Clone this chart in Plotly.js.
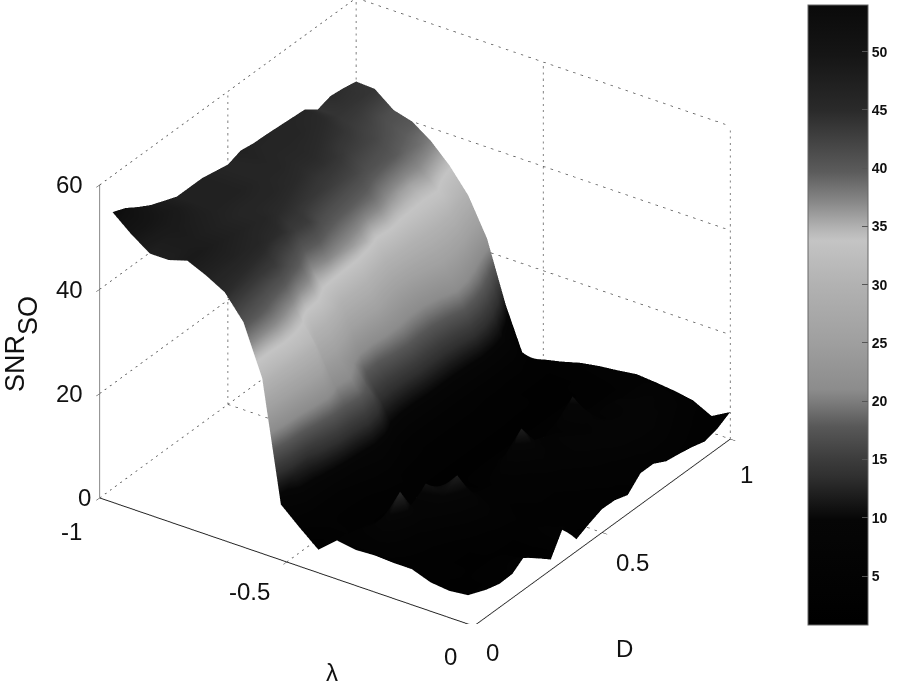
<!DOCTYPE html>
<html>
<head>
<meta charset="utf-8">
<script src="https://cdn.plot.ly/plotly-3.0.1.min.js"></script>
<style>html,body{margin:0;padding:0;background:#fff}</style>
</head>
<body>
<div id="chart" style="width:901px;height:688px"></div>
<script>
// lambda across, D along
const lambda = [-1,-0.95,-0.9,-0.85,-0.8,-0.75,-0.7,-0.65,-0.6,-0.55,-0.5,-0.45,-0.4,-0.35,-0.3,-0.25,-0.2,-0.15,-0.1,-0.05,0];
const D = [0.05,0.1,0.15,0.2,0.25,0.3,0.35,0.4,0.45,0.5,0.55,0.6,0.65,0.7,0.75,0.8,0.85,0.9,0.95,1];
const snr = [
  [53,50,47.5,47.5,48.6,47,45,40.5,31,8,4.8,1.8,4.8,4.2,4.4,4.2,4.2,2.9,2.5,2.9,5.2],
  [52,50,48,48,48.5,47,44.5,40,31,12,6,5,4.5,7,9,5,4,4,3,3,4.5],
  [50.4,49.5,48.5,48,48,47,44,39,32,13,6,4,4,6,13,6,4,3,3,4,4.6],
  [49,49,48,47.5,47.5,46.5,43.5,37.5,32,16,6,4,3,5,8,8,5,3,3,4,6.4],
  [48,48,47.5,47,47,46,43,36,31,18,7,4,3,4,11,10,7,4,3,3,4],
  [47,47,47,46.5,46.5,45,41,33.5,24,18,8,5,3,4,8,12,8,5,3,3,2],
  [47,47,47,46,46,44.5,39,33,24,19,9,5,4,4,5,7,6,5,4,5,6.6],
  [47,47,47,46,45,43,36,31,21.5,17,8,4,3,3,4,5,5,4,4,4,2.3],
  [46.5,46.5,46.5,46,44.5,43,37,28,18.5,12.5,6,4,3,3,3,5,5,5,4,4,3.5],
  [46,46,46,45.5,44,41,36.5,28,18,12,5,4,3,3,4,8,6,5,4,4,4.5],
  [46.9,46.5,46,45,43.5,40,36,28,19,12,5,4,3,3,5,12,8,6,5,4,4.4],
  [46.5,46,45.5,44.5,43,39.5,35,26,19.5,12.5,5,4,3,3,5,8,7,7,6,5,3.6],
  [46.4,46,45.5,44.5,42.5,39,33,25,19,12.5,5,4,3,3,4,7,8,9,7,5,6],
  [46.2,46,45,44,42,38.5,33.5,25,19,12.5,5,4,3,3,4,6,7,8,9,6,6],
  [46,45.5,44.5,43,41,37,33,26,20,13,5,3.5,3,3,4,11,8,8,9,7,4.7],
  [45.8,45,44,42.5,40.5,36,33,27,22,14,5,3.5,3,3,4,6,6,8,9,7,4.3],
  [44,44,43,42,40,35.5,33,27,21,13,5,3,3,3,4,5,8,8,8,6,3.8],
  [44.8,44,42.5,41,39,36,33,26,19,11,5,3,3,3,4,5,7,8,7,5,3.1],
  [44.5,44,41.5,40,38.5,35,31,24,16,7,4,3,3,3.5,4,5,7,7,6,4,3.8],
  [44,43.8,41,40,37.5,34,29.5,22.5,11,1.9,3,3.8,4.8,5.4,5.8,6.3,6,5.6,5,3.2,5.2]
];
const lambdaTicks = [-1,-0.5,0];
const dTicks = [0,0.5,1];
const zTicks = [0,20,40,60];
const barTicks = [5,10,15,20,25,30,35,40,45,50];

// gray map
const grayScale = [
  [0,'#000'],[0.17,'#060606'],[0.2,'#181818'],[0.24,'#303030'],[0.267,'#3c3c3c'],[0.32,'#585858'],[0.36,'#7c7c7c'],
  [0.38,'#8c8c8c'],[0.46,'#a0a0a0'],[0.55,'#b2b2b2'],[0.62,'#c4c4c4'],[0.635,'#b8b8b8'],[0.655,'#a4a4a4'],
  [0.68,'#8a8a8a'],[0.73,'#5c5c5c'],[0.83,'#2a2a2a'],[0.92,'#151515'],[1,'#0a0a0a']
];

const gridColor = '#555';
function gridLine(x, y, z) {
  return {type:'scatter3d', mode:'lines', x:x, y:y, z:z, hoverinfo:'skip', showlegend:false,
    line:{color:gridColor, width:1.5, dash:'dash'}};
}
const traces = [{
  type:'surface', x:lambda, y:D, z:snr, colorscale:grayScale, cmin:0.8, cmax:54,
  lighting:{ambient:1, diffuse:0, specular:0, fresnel:0, roughness:1},
  hoverinfo:'skip',
  contours:{x:{highlight:false},y:{highlight:false},z:{highlight:false}},
  colorbar:{x:808/901, xanchor:'left', y:1-5/688, yanchor:'top', len:620, lenmode:'pixels',
    thickness:60, thicknessmode:'pixels', tickvals:barTicks, ticks:'inside', ticklen:6,
    tickcolor:'#555', outlinecolor:'#666', outlinewidth:1, xpad:0, ypad:0,
    tickfont:{family:'Liberation Sans', size:14, color:'#111', weight:'bold'}}
}];
// dotted walls
zTicks.slice(1).forEach(z => {
  traces.push(gridLine([-1,-1],[0,1],[z,z]));
  traces.push(gridLine([-1,0],[1,1],[z,z]));
});
lambdaTicks.forEach(l => {
  traces.push(gridLine([l,l],[1,1],[0,60]));
  traces.push(gridLine([l,l],[0,1],[0,0]));
});
dTicks.slice(1).forEach(d => {
  traces.push(gridLine([-1,-1],[d,d],[0,60]));
  traces.push(gridLine([-1,0],[d,d],[0,0]));
});

const tickFont = {family:'Liberation Sans', size:24, color:'#111'};
function label(x, y, z, text, xshift, yshift, extra) {
  return Object.assign({x:x, y:y, z:z, text:text, showarrow:false, xshift:xshift, yshift:yshift, font:tickFont}, extra||{});
}
const notes = [];
lambdaTicks.forEach((l,i) => notes.push(label(l,0,0,String(l),[-28,-37,-23][i],[-34,-30,-30][i])));
dTicks.forEach((d,i) => notes.push(label(0,d,0,String(d),[19,30,16][i],[-26,-30,-35][i])));
zTicks.forEach(z => notes.push(label(-1,0,z,String(z),z ? -30 : -15,0)));
notes.push(label(-0.4,0,0,'λ',8,-98));
notes.push(label(0,0.45,0,'D',35,-107));
notes.push(label(-1,0,30,'SNR<sub><sub><sub><span style="font-size:27px">SO</span></sub></sub></sub>',-78,-3,
  {textangle:-90, font:{family:'Liberation Sans', size:27, color:'#111'}}));

const axisStyle = {showgrid:false, zeroline:false, showbackground:false, showticklabels:false,
  showline:true, linecolor:'#222', linewidth:2, ticks:'outside', ticklen:6, tickcolor:'#222', title:{text:''}, showspikes:false};

const layout = {
  width:901, height:688, margin:{l:0,r:0,t:0,b:0}, paper_bgcolor:'#fff', showlegend:false,
  scene:{
    domain:{x:[0,830/901], y:[64/688,1]},
    aspectmode:'manual', aspectratio:{x:1.454,y:1.454,z:1.158},
    camera:{projection:{type:'orthographic'}, center:{x:0,y:0,z:0}, up:{x:0,y:0,z:1},
      eye:{x:0.98,y:-1.43,z:1}},
    xaxis:Object.assign({range:[-1,0], tickvals:lambdaTicks}, axisStyle),
    yaxis:Object.assign({range:[0,1], tickvals:dTicks}, axisStyle),
    zaxis:Object.assign({range:[0,60], tickvals:zTicks}, axisStyle, {linecolor:'#888'}),
    annotations:notes
  }
};
Plotly.newPlot('chart', traces, layout, {displayModeBar:false});
</script>
</body>
</html>
